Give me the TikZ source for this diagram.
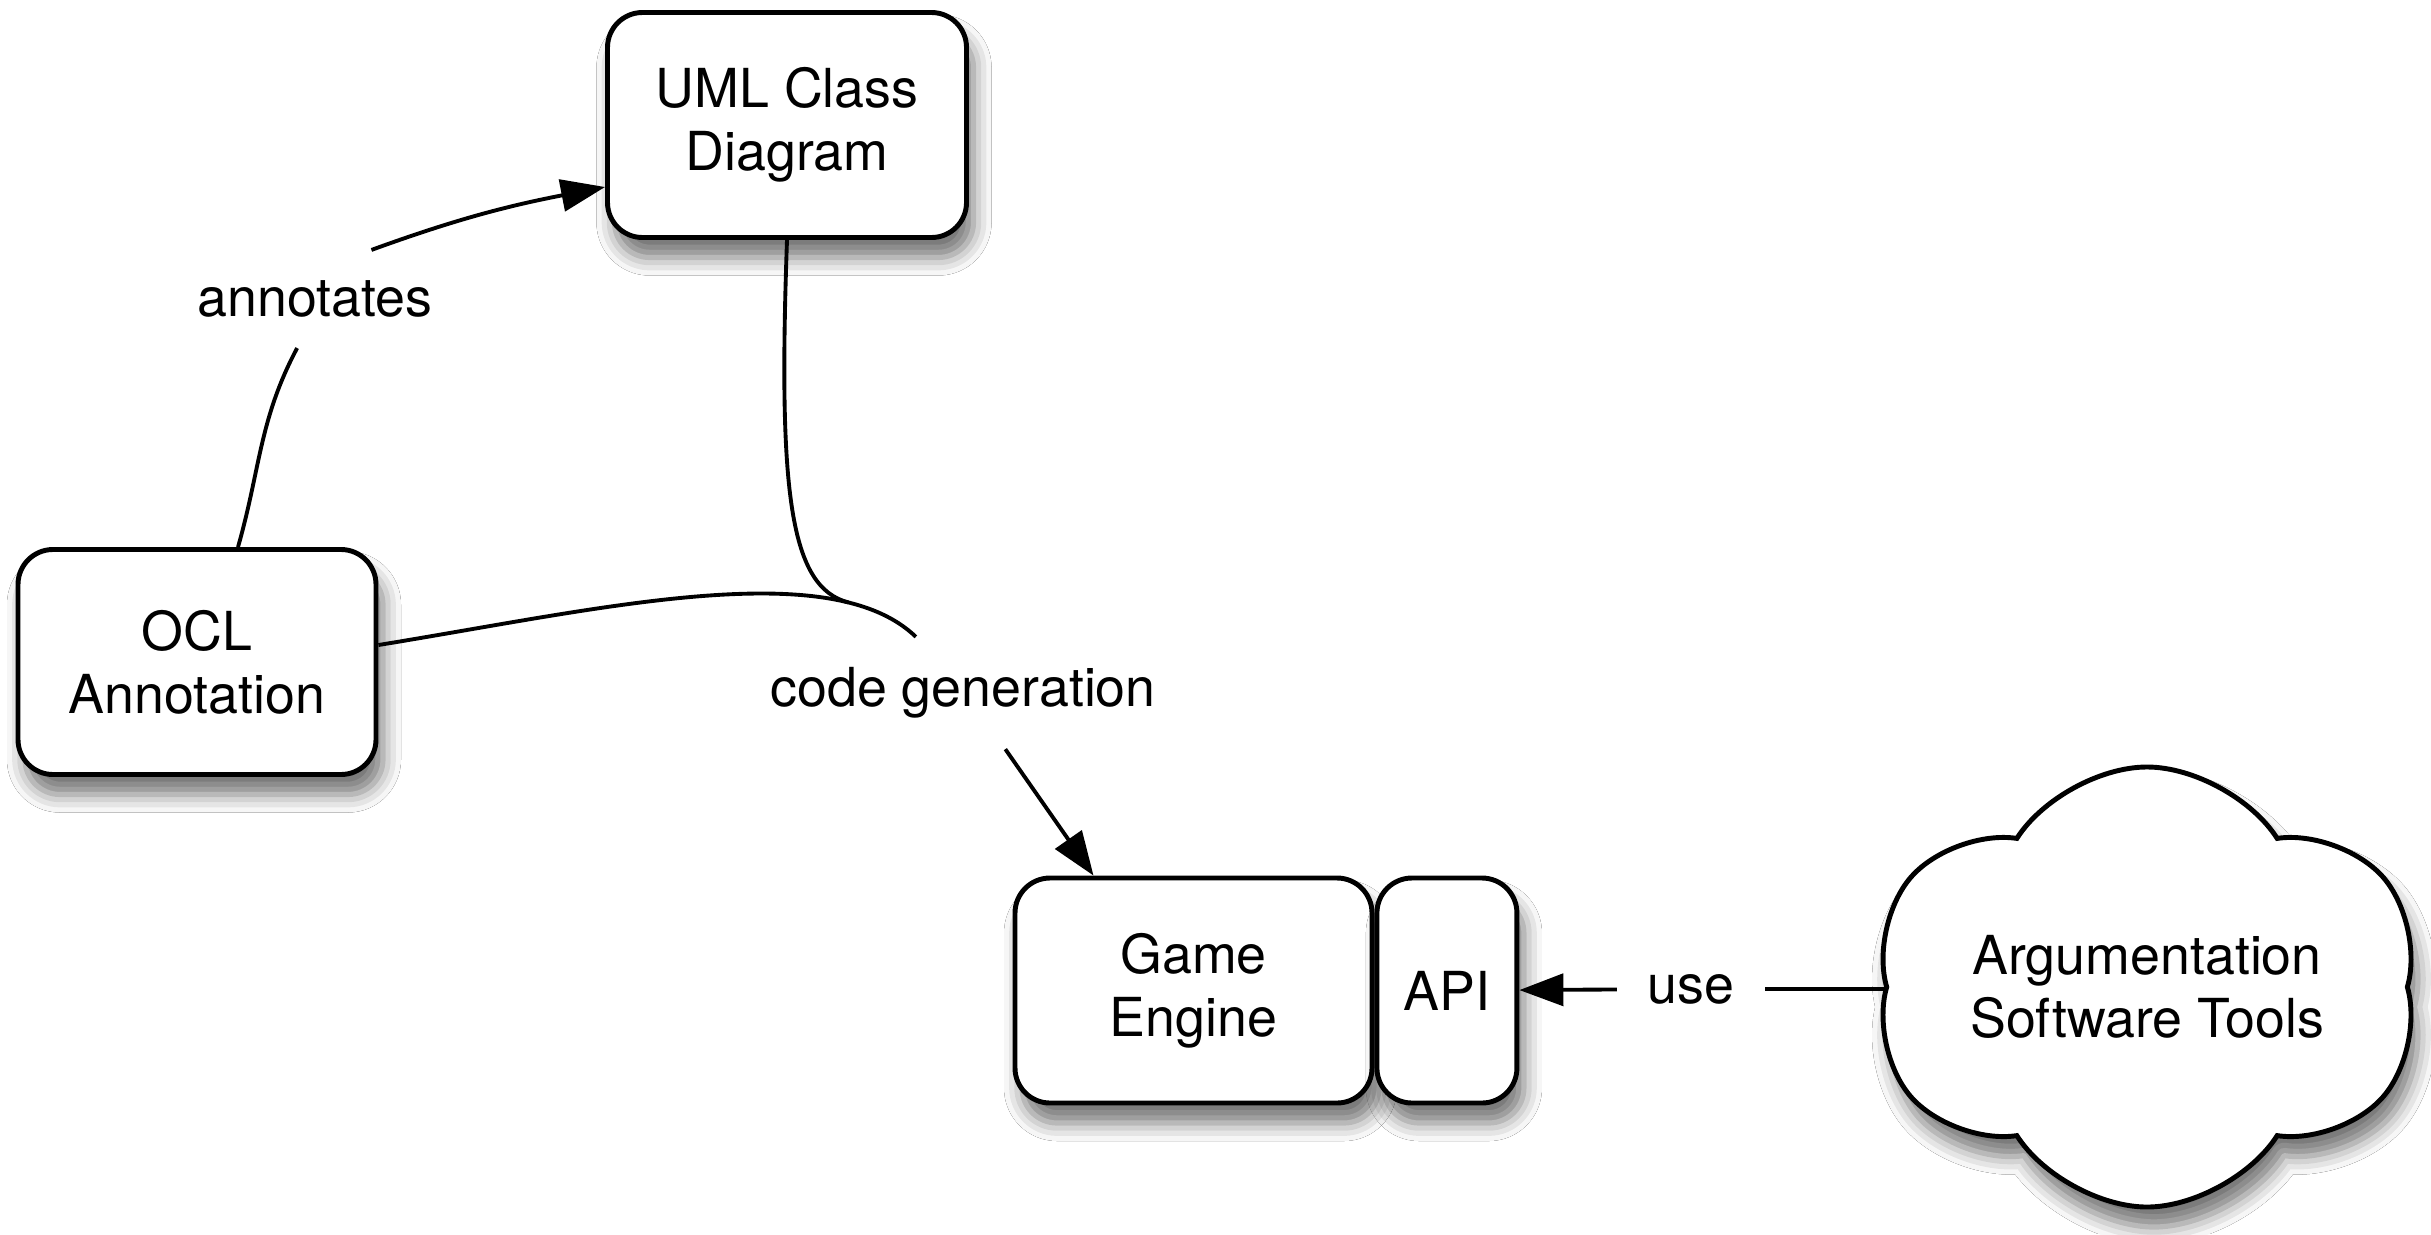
\documentclass[tikz,border=0pt]{standalone}
\usepackage{fontspec}
\setmainfont{TeX Gyre Heros}
\usepackage{tikz}
\usetikzlibrary{positioning,arrows.meta,shapes.symbols,shadows.blur}
\tikzset{every node/.style={font=\fontsize{15.3}{18}\selectfont}}
\tikzset{shade/.style={blur shadow={shadow xshift=0.07cm,shadow yshift=-0.2cm,
    shadow blur radius=0.18cm,shadow opacity=55}}}
\tikzset{box/.style={draw,line width=1.4pt,rounded corners=0.35cm,fill=white,align=center,
    inner sep=0pt,minimum height=2.25cm,shade}}
\tikzset{lbl/.style={fill=white,inner sep=0.3cm}}
\tikzset{conn/.style={line width=1.1pt}}
\tikzset{arr/.style={conn,-{Triangle[length=0.44cm,width=0.32cm]}}}
\newcommand{\flowbox}[5][]{\node[box,minimum width=#2,#1] at (#3) (#4) {#5}}

\begin{document}
\begin{tikzpicture}
    \useasboundingbox[fill=white] (0,0) rectangle (24.31,12.34);
    % boxes
    \flowbox{3.59cm}{7.87,11.09}{uml}{UML Class\\Diagram};
    \flowbox{3.58cm}{1.97,5.72}{ocl}{OCL\\Annotation};
    \flowbox{3.57cm}{11.935,2.435}{engine}{Game\\Engine};
    \node[box,minimum width=1.40cm,right=0pt of engine] (api) {API};
    \node[cloud,cloud puffs=6,cloud puff arc=115,cloud ignores aspect,draw,line width=1.4pt,
        fill=white,align=center,minimum width=5.45cm,minimum height=4.4cm,shade]
        at (21.47,2.47) (tools) {Argumentation\\Software Tools};
    % labels
    \node[lbl] at (3.15,9.35) (annot) {annotates};
    \node[lbl] at (9.63,5.41) (codegen) {code generation};
    \node[lbl] at (16.91,2.45) (use) {use};
    % connectors
    \draw[conn] ([xshift=0.41cm]ocl.north) to[out=74,in=-118] (annot.250);
    \draw[arr] (annot.41) to[out=20,in=191] ([yshift=-0.62cm]uml.west);
    \draw[conn] ([yshift=0.17cm]ocl.east) .. controls (6.0,6.25) and (8.3,6.8) .. (codegen.130)
        coordinate[pos=0.8] (join);
    \draw[conn] (uml.south) .. controls (7.78,7.4) and (7.9,6.47) .. (join);
    \draw[arr] (codegen.-53) -- ([xshift=-1.0cm]engine.north);
    \draw[conn] (tools.west |- use) -- (use);
    \draw[arr] (use) -- (api);
\end{tikzpicture}
\end{document}
